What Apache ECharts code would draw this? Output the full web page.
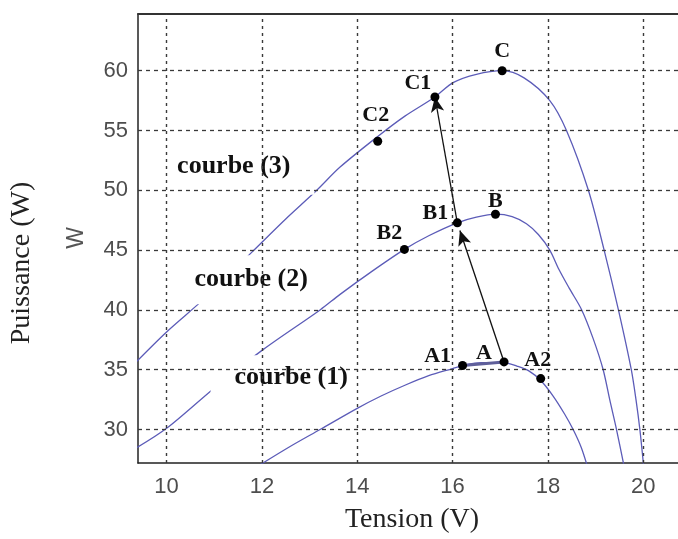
<!DOCTYPE html>
<html>
<head>
<meta charset="utf-8">
<script src="https://cdn.jsdelivr.net/npm/echarts@6/dist/echarts.min.js"></script>
<style>
  html, body { margin: 0; padding: 0; background: #fff; }
  #chart { width: 678px; height: 539px; }
</style>
</head>
<body>
<div id="chart"></div>
<script>
// Axis tick values
const tensionTicks = [10, 12, 14, 16, 18, 20];
const puissanceTicks = [30, 35, 40, 45, 50, 55, 60];

// P-V characteristics, pairs of [tension (V), puissance (W)]
const courbe1 = [
  [11.9, 26.9], [12.6, 28.6], [13.22, 30.0], [13.99, 31.75], [14.5, 32.8],
  [15.0, 33.7], [15.5, 34.5], [16.0, 35.1], [16.21, 35.35], [16.6, 35.6],
  [17.08, 35.6], [17.35, 35.3], [17.6, 34.9], [17.85, 34.1], [18.11, 32.8],
  [18.35, 31.3], [18.53, 30.0], [18.7, 28.5], [18.83, 26.9]
];
const courbe2 = [
  [9.3, 28.3], [10.0, 30.1], [11.01, 33.5], [12.03, 36.7], [13.22, 40.0],
  [13.64, 41.3], [14.3, 43.2], [14.99, 45.06], [15.5, 46.2], [16.1, 47.28],
  [16.5, 47.75], [16.9, 48.0], [17.25, 47.8], [17.55, 47.2], [17.8, 46.3],
  [18.04, 45.0], [18.23, 43.4], [18.45, 41.8], [18.71, 40.0], [18.95, 37.6],
  [19.16, 35.0], [19.3, 32.45], [19.44, 30.0], [19.6, 26.9]
];
const courbe3 = [
  [9.3, 35.4], [10.0, 38.16], [10.78, 40.9], [11.79, 44.83], [12.5, 47.6],
  [13.15, 50.0], [13.64, 51.94], [14.43, 54.5], [15.0, 56.2], [15.63, 57.8],
  [16.01, 59.0], [16.5, 59.7], [17.04, 60.0], [17.5, 59.4], [18.04, 57.5],
  [18.39, 55.0], [18.85, 50.0], [19.18, 45.0], [19.48, 40.0],
  [19.75, 35.0], [19.85, 32.45], [19.93, 30.0], [20.01, 26.9]
];

// Operating points
const pointNames = ['A', 'A1', 'A2', 'B', 'B1', 'B2', 'C', 'C1', 'C2'];
const pointTension = [17.08, 16.21, 17.85, 16.9, 16.1, 14.99, 17.04, 15.63, 14.43];
const pointPuissance = [35.65, 35.35, 34.26, 48.0, 47.28, 45.06, 60.0, 57.8, 54.1];

// Curve captions
const curveNames = ['courbe (1)', 'courbe (2)', 'courbe (3)'];

// Displacements between operating points
const arrowPairs = [['A', 'B1'], ['B1', 'C1']];

// ---- presentation settings ----
const curveColor = '#5c5cb8';
const serif = 'Liberation Serif';
const sans = 'Liberation Sans';

// caption box centres (data space) and white box padding [top, right, bottom, left]
const captionAnchor = {
  'courbe (1)': [12.51, 34.33],
  'courbe (2)': [11.88, 42.53],
  'courbe (3)': [11.42, 52.02]
};
const captionPadding = {
  'courbe (1)': [19, 14, 0, 24],
  'courbe (2)': [15, 13, 8, 3],
  'courbe (3)': [20, 24, 11, 23]
};
// point label offsets in pixels from the dot centre
const pointLabelOffset = {
  A: [-20, -9], A1: [-25, -9], A2: [-3, -18],
  B: [0, -13], B1: [-22, -10], B2: [-15, -16],
  C: [0, -19], C1: [-17, -14], C2: [-2, -26]
};
// fraction of each arrow left short of its target point
const arrowShortening = [0.055, 0.0];

const pointOf = name => {
  const i = pointNames.indexOf(name);
  return [pointTension[i], pointPuissance[i]];
};

const arrowLines = arrowPairs.map(([from, to], k) => {
  const p = pointOf(from), q = pointOf(to);
  const s = arrowShortening[k];
  const tip = [q[0] + (p[0] - q[0]) * s, q[1] + (p[1] - q[1]) * s];
  return [{ coord: p }, { coord: tip }];
});

const chart = echarts.init(document.getElementById('chart'), null, { renderer: 'canvas' });

const option = {
  animation: false,
  backgroundColor: '#fff',
  grid: { left: 138, right: 0, top: 14, bottom: 76, containLabel: false },
  xAxis: [
    {
      type: 'value', position: 'bottom', min: 9.4, max: 20.73,
      axisLine: { show: true, onZero: false, lineStyle: { color: '#222', width: 1.5 } },
      axisTick: { show: false },
      splitLine: { show: false },
      axisLabel: {
        customValues: tensionTicks, margin: 13,
        fontFamily: sans, fontSize: 22, color: '#4d4d4d'
      }
    },
    {
      type: 'value', position: 'top', min: 9.4, max: 20.73,
      axisLine: { show: true, onZero: false, lineStyle: { color: '#333', width: 2 } },
      axisTick: { show: false }, axisLabel: { show: false }, splitLine: { show: false }
    }
  ],
  yAxis: {
    type: 'value', min: 27.2, max: 64.74,
    axisLine: { show: true, onZero: false, lineStyle: { color: '#222', width: 1.5 } },
    axisTick: { show: false },
    splitLine: { show: false },
    axisLabel: {
      customValues: puissanceTicks, margin: 10,
      fontFamily: sans, fontSize: 22, color: '#4d4d4d'
    }
  },
  graphic: [
    {
      type: 'text', x: 412, y: 520,
      style: { text: 'Tension (V)', font: '28px "Liberation Serif"', fill: '#222',
               align: 'center', verticalAlign: 'middle' }
    },
    {
      type: 'text', x: 22, y: 263, rotation: Math.PI / 2,
      style: { text: 'Puissance (W)', font: '28px "Liberation Serif"', fill: '#222',
               align: 'center', verticalAlign: 'middle' }
    },
    {
      type: 'text', x: 77, y: 238, rotation: Math.PI / 2,
      style: { text: 'W', font: '23px "Liberation Sans"', fill: '#555',
               align: 'center', verticalAlign: 'middle' }
    }
  ],
  series: [
    {
      // dashed grid
      name: 'grille', type: 'line', data: [], z: 1, silent: true,
      markLine: {
        silent: true, symbol: 'none', animation: false,
        label: { show: false },
        lineStyle: { color: '#3a3a3a', type: [4, 4], width: 1.3 },
        data: [
          ...tensionTicks.map(v => ({ xAxis: v, lineStyle: { type: [3, 4], color: '#3a3a3a', width: 1.4 } })),
          ...puissanceTicks.map(v => ({ yAxis: v }))
        ]
      }
    },
    ...[courbe1, courbe2, courbe3].map((c, i) => ({
      name: curveNames[i], type: 'line', data: c, z: 2,
      showSymbol: false, smooth: 0.3, clip: true,
      lineStyle: { color: curveColor, width: 1.3 }
    })),
    {
      // A1 - A stretch
      name: 'A1-A', type: 'line', z: 2, showSymbol: false,
      data: [pointOf('A1'), pointOf('A')],
      lineStyle: { color: '#5f5f9a', width: 3 }
    },
    {
      name: 'étiquettes', type: 'scatter', z: 3, symbolSize: 0, silent: true,
      itemStyle: { opacity: 1 },
      data: curveNames.map(n => ({
        name: n, value: captionAnchor[n],
        label: { padding: captionPadding[n] }
      })),
      label: {
        show: true, position: 'inside', formatter: '{b}',
        backgroundColor: '#fff', fontFamily: serif, fontWeight: 'bold',
        fontSize: 26, lineHeight: 26, color: '#111'
      }
    },
    {
      name: 'déplacements', type: 'line', data: [], z: 4, silent: true,
      markLine: {
        silent: true, animation: false, symbol: ['none', 'arrow'], symbolSize: [10, 15],
        label: { show: false },
        lineStyle: { color: '#111', width: 1.3, type: 'solid' },
        data: arrowLines
      }
    },
    {
      name: 'points', type: 'scatter', z: 5, symbolSize: 9,
      itemStyle: { color: '#000', opacity: 1 },
      data: pointNames.map((n, i) => ({
        name: n, value: [pointTension[i], pointPuissance[i]],
        label: { offset: pointLabelOffset[n] }
      })),
      label: {
        show: true, position: 'inside', formatter: '{b}',
        fontFamily: serif, fontWeight: 'bold', fontSize: 22, color: '#111'
      }
    }
  ]
};

chart.setOption(option);
</script>
</body>
</html>
